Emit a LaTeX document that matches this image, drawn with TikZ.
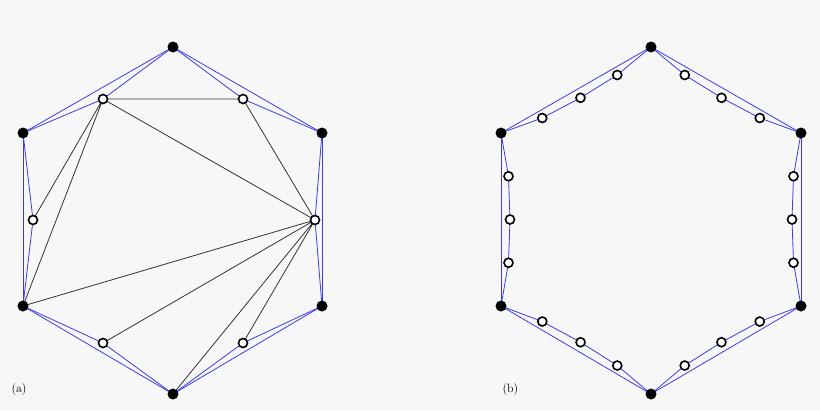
\documentclass[tikz,border=0pt]{standalone}
\usetikzlibrary{calc}
\begin{document}
\begin{tikzpicture}[x=1pt,y=-1pt,
  fv/.style={circle,fill=black,inner sep=0pt,minimum size=11pt},
  ov/.style={circle,draw=black,line width=1.6pt,fill=white,inner sep=0pt,minimum size=9pt},
  bl/.style={draw={rgb,255:red,60;green,60;blue,230},line width=0.8pt},
  bk/.style={draw=black!80,line width=0.8pt}]
\fill[black!3] (0,0) rectangle (820,410);
\useasboundingbox (0,0) rectangle (820,410);
% (a)
\coordinate (A0) at (173,47); \coordinate (A1) at (322,133); \coordinate (A2) at (322,306);
\coordinate (A3) at (173,394); \coordinate (A4) at (23,306); \coordinate (A5) at (23,133);
\coordinate (P0) at (243,99); \coordinate (P1) at (315,220); \coordinate (P2) at (243,343);
\coordinate (P3) at (103,343); \coordinate (P4) at (33,220); \coordinate (P5) at (103,99);
\foreach \i/\j in {0/1,1/2,2/3,3/4,4/5,5/0}{
  \draw[bl] (A\i) -- (A\j); \draw[bl] (A\i) -- (P\i) -- (A\j);}
\draw[bk] (P5)--(P0) (P5)--(P1) (P5)--(P4) (P5)--(A4) (P0)--(P1)
  (A4)--(P1) (P3)--(P1) (A3)--(P1) (P2)--(P1);
\foreach \i in {0,...,5}{\node[fv] (a\i) at (A\i) {}; \node[ov] (p\i) at (P\i) {};}
\node[anchor=base west,font=\large] (la) at (8,392) {(a)};
% (b)
\coordinate (B0) at (651,47); \coordinate (B1) at (801,133); \coordinate (B2) at (801,306);
\coordinate (B3) at (651,394); \coordinate (B4) at (501,306); \coordinate (B5) at (501,133);
\foreach \i/\j in {0/1,1/2,2/3,3/4,4/5,5/0}{
  \path ($(B\i)!0.25!(B\j)$) coordinate (M\i a)
        ($(B\i)!0.5!(B\j)$) coordinate (M\i b)
        ($(B\i)!0.75!(B\j)$) coordinate (M\i c);
  \path ($(M\i a)!7.5pt!-90:(B\j)$) coordinate (Q\i a)
        ($(M\i b)!9pt!-90:(B\j)$) coordinate (Q\i b)
        ($(M\i c)!7.5pt!-90:(B\j)$) coordinate (Q\i c);
  \draw[bl] (B\i) -- (B\j);
  \draw[bl] (B\i) -- (Q\i a) -- (Q\i b) -- (Q\i c) -- (B\j);
  \node[ov] (q\i a) at (Q\i a) {}; \node[ov] (q\i b) at (Q\i b) {}; \node[ov] (q\i c) at (Q\i c) {};}
\foreach \i in {0,...,5}{\node[fv] (b\i) at (B\i) {};}
\node[anchor=base west,font=\large] (lb) at (499,392) {(b)};
\end{tikzpicture}
\end{document}
